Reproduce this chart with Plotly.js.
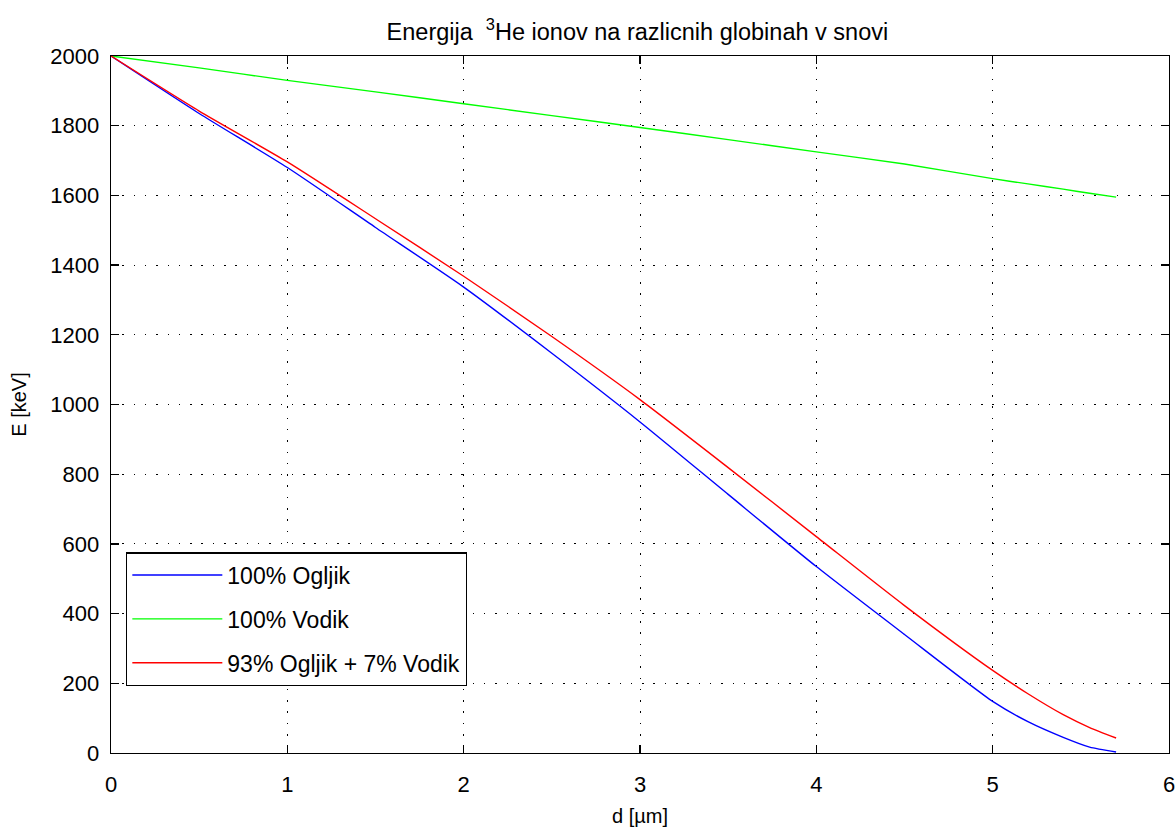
<!DOCTYPE html>
<html>
<head>
<meta charset="utf-8">
<script src="https://cdn.plot.ly/plotly-3.0.1.min.js"></script>
<style>html,body{margin:0;padding:0;background:#fff;}#chart{width:1176px;height:832px;}</style>
</head>
<body>
<div id="chart"></div>
<script>
// depth in micrometres
const depth = [0, 0.5, 1, 1.5, 2, 2.5, 3, 3.5, 4, 4.5, 5, 5.2, 5.4, 5.55, 5.7];
// energy in keV
const carbon = [2000, 1835, 1680, 1508, 1337, 1147, 950, 742, 535, 340, 148, 90, 45, 17, 3];
const hydrogen = [2000, 1966, 1930, 1897, 1863, 1829, 1795, 1760, 1725, 1690, 1648, 1633, 1618, 1606, 1595];
const mixture = [2000, 1842, 1696, 1533, 1368, 1195, 1014, 819, 621, 423, 237, 170, 110, 73, 43];
const seriesNames = ["100% Ogljik", "100% Vodik", "93% Ogljik + 7% Vodik"];
const seriesColors = ["#0000ff", "#00ff00", "#ff0000"];
const xTicks = [0, 1, 2, 3, 4, 5, 6];
const yTicks = [0, 200, 400, 600, 800, 1000, 1200, 1400, 1600, 1800, 2000];

const font = "Liberation Sans, Arial, sans-serif";
const ys = [carbon, hydrogen, mixture];
const traces = ys.map((y, i) => ({
  x: depth, y: y, type: "scatter", mode: "lines",
  name: seriesNames[i], legendgroup: "g" + i,
  line: {color: seriesColors[i], width: 1.4, shape: "spline", smoothing: 0.6}
}));

const axisCommon = {
  showline: true, linecolor: "#000", linewidth: 1.3, mirror: "ticks",
  ticks: "inside", ticklen: 8, tickwidth: 1.3, tickcolor: "#000",
  showgrid: true, gridcolor: "#000", gridwidth: 1, griddash: "1.5px,9.8px",
  zeroline: false, tickfont: {family: font, size: 22, color: "#000"}
};

const layout = {
  width: 1176, height: 832,
  margin: {l: 111, r: 7, t: 56, b: 79},
  paper_bgcolor: "#fff", plot_bgcolor: "#fff",
  font: {family: font, color: "#000"},
  title: {text: "Energija  <sup>3</sup>He ionov na razlicnih globinah v snovi",
          font: {family: font, size: 23.5, color: "#000"},
          xref: "container", x: 0.542, xanchor: "center",
          yref: "container", y: 0.962, yanchor: "middle"},
  xaxis: Object.assign({}, axisCommon, {
    range: [0, 6], tickvals: xTicks, ticktext: xTicks.map(String),
    ticklabelstandoff: 11,
    title: {text: "d [µm]", font: {family: font, size: 20, color: "#000"}, standoff: 13}
  }),
  yaxis: Object.assign({}, axisCommon, {
    range: [0, 2000], tickvals: yTicks, ticktext: yTicks.map(String),
    ticklabelstandoff: 6,
    title: {text: "E [keV]", font: {family: font, size: 20, color: "#000"}, standoff: 18}
  }),
  showlegend: true,
  legend: {
    x: 0.0142, y: 0.288, xanchor: "left", yanchor: "top",
    bgcolor: "#fff", bordercolor: "#000", borderwidth: 1.3,
    font: {family: font, size: 23, color: "#000"},
    traceorder: "grouped", tracegroupgap: 11, itemwidth: 90
  }
};

Plotly.newPlot("chart", traces, layout, {displayModeBar: false, staticPlot: true});
</script>
</body>
</html>
